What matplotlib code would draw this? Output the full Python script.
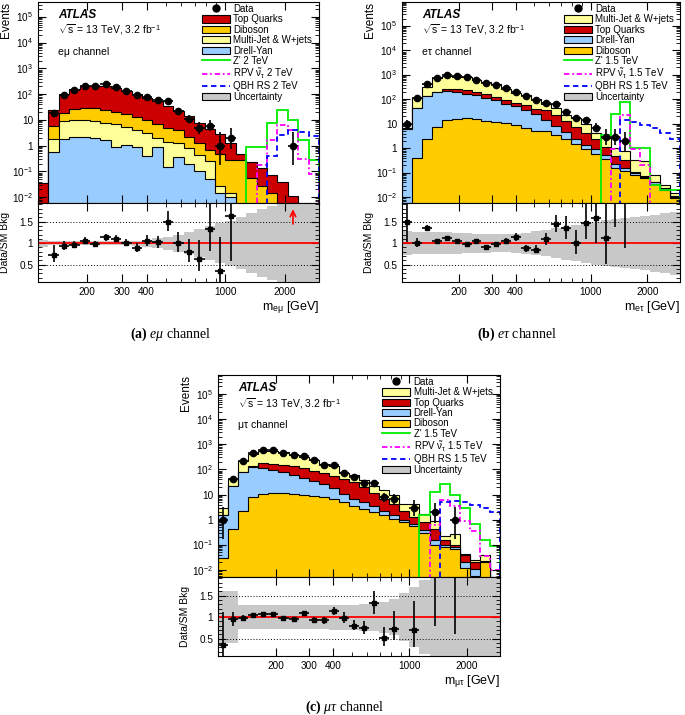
import numpy as np
import matplotlib
matplotlib.use("Agg")
import matplotlib.pyplot as plt
from matplotlib.lines import Line2D
from matplotlib.patches import Patch
from matplotlib.ticker import FixedLocator, FuncFormatter, LogLocator, MultipleLocator, NullFormatter

plt.rcParams['font.family'] = ['Liberation Sans', 'DejaVu Sans']
plt.rcParams['mathtext.fontset'] = 'custom'
plt.rcParams['mathtext.rm'] = 'Liberation Sans'
plt.rcParams['mathtext.sf'] = 'Liberation Sans'
plt.rcParams['mathtext.it'] = 'Liberation Serif:italic'
plt.rcParams['mathtext.bf'] = 'Liberation Serif:bold'

# ---- e-mu channel (27 log bins, 19 per decade) ----
top_a = [0.035, 18.8, 79, 126, 175, 182, 186, 147, 119, 87, 64, 49, 30, 18, 11.8, 6.6, 3.8, 2.4, 0.95, 0.2,
         0.185, 0.104, 0.06, 0.033, 0.011, 0, 0]
dib_a = [0, 3.85, 10, 16, 19.5, 20.4, 16.2, 14.3, 11, 8.6, 6.9, 4.9, 3.3, 2.7, 1.4, 0.78, 0.43, 0.43, 0.27, 0.28,
         0.055, 0.026, 0.014, 0.004, 0, 0, 0]
mj_a = [0, 1.3, 7.2, 7.8, 7.9, 7.1, 6.1, 5.8, 4.3, 3.1, 2.6, 1.13, 1.28, 0.93, 0.6, 0.35, 0.2, 0.011, 0.004, 0,
        0, 0, 0, 0, 0, 0, 0]
dy_a = [0, 0.55, 1.8, 2.1, 2.1, 2.0, 1.7, 0.87, 1.07, 0.87, 0.38, 0.87, 0.15, 0.37, 0.2, 0.1, 0.05, 0.015, 0.01, 0,
        0, 0, 0, 0, 0, 0, 0]
data_a = [0, 18, 92, 146, 216, 208, 238, 185, 137, 89, 78, 57, 52, 22, 11, 5, 6, 1, 2, 0, 0, 0, 0, 0, 1, 0, 0]
zp_a = [0] * 20 + [0.87, 0.87, 7.5, 24, 10, 1.7, 0.27]
rpv_a = [0] * 21 + [0.18, 1.66, 6.3, 4.0, 0.3, 0.08]
qbh_a = [0] * 22 + [0.38, 2.6, 4.0, 3.5, 2.3]
unc_a = [0.08, 0.05, 0.05, 0.05, 0.05, 0.05, 0.05, 0.05, 0.05, 0.06, 0.08, 0.11, 0.15, 0.2, 0.26, 0.32, 0.4,
         0.46, 0.52, 0.6, 0.7, 0.78, 0.85, 0.9, 0.9, 0.9, 0.9]

# ---- e-tau channel (28 bins) ----
dib_b = [0, 0.39, 2.5, 7.6, 14, 15.5, 16.5, 15, 13.3, 12, 10.3, 8.8, 6.5, 5.0, 5.0, 3.5, 2.4, 1.5, 0.9, 0.6,
         0.35, 0.16, 0.12, 0.08, 0.06, 0.035, 0.02, 0.009]
dy_b = [6.3, 45, 130, 192, 205, 185, 154, 130, 101, 79, 57, 43, 30, 21, 9, 4.5, 2.1, 1.0, 0.5, 0.3,
        0.2, 0.06, 0.03, 0.02, 0.01, 0.005, 0.002, 0.001]
top_b = [0.1, 0.5, 1, 3, 51, 65, 70, 60, 56, 39, 28, 20, 21, 16, 21, 14, 8.5, 5.0, 2.8, 1.4,
         0.55, 0.28, 0.18, 0.01, 0.005, 0.002, 0.001, 0.001]
mj_b = [0.3, 68, 185, 542, 627, 578, 587, 410, 352, 276, 181, 103, 93, 65, 29, 21, 10, 9.5, 5.3, 2.1,
        1.6, 0.5, 0.47, 0.23, 0.225, 0.041, 0.01, 0.004]
data_b = [10, 115, 430, 775, 1000, 885, 810, 646, 475, 394, 290, 199, 132, 91, 70, 62, 31, 17, 14, 7,
          3, 3, 2, 0, 0, 0, 0, 0]
zp_b = [0] * 20 + [3.5, 24, 80, 1.0, 1.0, 0.032, 0.02, 0.02]
rpv_b = [0] * 21 + [0.9, 22, 0.9, 0.2, 0, 0, 0]
qbh_b = [0] * 22 + [14, 12, 8.8, 6.5, 4.1, 2.5]
unc_b = [0.27, 0.26, 0.26, 0.25, 0.25, 0.24, 0.23, 0.22, 0.22, 0.21, 0.21, 0.22, 0.24, 0.27, 0.3, 0.34, 0.38,
         0.42, 0.46, 0.5, 0.53, 0.55, 0.58, 0.6, 0.63, 0.66, 0.7, 0.73]

# ---- mu-tau channel (28 bins) ----
dib_c = [0.03, 0.43, 2.3, 7.7, 10.5, 11.2, 11.2, 10.5, 9.8, 8.9, 7.7, 6.6, 4.9, 3.5, 2.7, 2.1, 1.5, 1.1, 0.79,
         0.55, 0.3, 0.1, 0.085, 0.07, 0.012, 0.006, 0.02, 0.003]
dy_c = [1.47, 20.6, 78, 112, 100, 85, 65, 48.5, 38, 26, 18.3, 11.4, 6.1, 3.5, 2.2, 1.5, 0.8, 0.5, 0.21,
        0.1, 0.08, 0.05, 0.015, 0.01, 0.008, 0.005, 0.001, 0.001]
top_c = [0.01, 0.05, 0.3, 18, 63, 66, 72, 73, 62, 54, 44, 37, 31, 25, 15, 8.4, 4.7, 2.6, 1.3,
         0.65, 0.42, 0.28, 0.05, 0.02, 0.02, 0.009, 0.001, 0.0005]
mj_c = [1.4, 21, 133, 281, 385, 378, 329, 253, 193, 160, 92, 82, 31, 30, 19, 10, 8.7, 5.3, 1.9,
        3.0, 0.9, 0.47, 0.08, 0.18, 0.005, 0.005, 0.018, 0.001]
data_c = [1, 40, 210, 440, 600, 580, 470, 370, 330, 234, 150, 155, 72, 50, 29, 29, 8, 7, 0, 3,
          0, 2, 0, 1, 0, 0, 0, 0]
zp_c = [0] * 20 + [1.6, 13, 27, 10, 3.0, 0.7, 0.15, 0.09]
rpv_c = [0] * 21 + [0.6, 6.3, 3.5, 0.9, 0.35, 0.035, 0.01]
qbh_c = [0] * 22 + [5.0, 5.7, 5.0, 4.0, 3.0, 2.0]
unc_c = [0.6, 0.6, 0.28, 0.28, 0.28, 0.28, 0.28, 0.28, 0.28, 0.28, 0.28, 0.29, 0.29, 0.29, 0.31, 0.33, 0.36,
         0.42, 0.55, 0.7, 0.85, 0.95, 0.95, 0.95, 0.95, 0.95, 0.95, 0.95]

# colours
c_top = '#cc0000'
c_dib = '#ffcc00'
c_mj = '#ffff99'
c_dy = '#99ccff'
c_unc = '#c8c8c8'

W, H = 685, 715
fig = plt.figure(figsize=(W / 100, H / 100), dpi=100)


def px_rect(left, top, right, bottom):
    return [left / W, 1 - bottom / H, (right - left) / W, (bottom - top) / H]


def pow_label(v, pos):
    e = int(round(np.log10(v)))
    if e == 0:
        return '1'
    if e == 1:
        return '10'
    return r'$10^{%d}$' % e


def draw_channel(main_px, ratio_px, edges, layers, legend_keys, data, signals, unc, channel, xlabel, ylim):
    ax = fig.add_axes(px_rect(*main_px))
    rax = fig.add_axes(px_rect(*ratio_px), sharex=ax)
    ax.set_xscale('log')
    ax.set_yscale('log')
    width = main_px[2] - main_px[0]

    # stacked backgrounds, bottom -> top
    vals = np.array([l[1] for l in layers], dtype=float)
    cum = np.cumsum(vals, axis=0)
    for i in range(len(layers) - 1, -1, -1):
        ax.stairs(np.clip(cum[i], 1e-6, None), edges, baseline=1e-6, fill=True,
                  facecolor=layers[i][2], edgecolor='black', linewidth=0.8)
    total = cum[-1]

    # signals
    for name, v, col, ls in signals:
        ax.stairs(np.clip(np.array(v, float), 1e-6, None), edges, baseline=1e-6,
                  color=col, linestyle=ls, linewidth=1.3)

    # data with Poisson errors
    centers = np.sqrt(edges[:-1] * edges[1:])
    xlo = centers - edges[:-1]
    xhi = edges[1:] - centers
    d = np.array(data, float)
    lo = d * (1 - 1 / (9 * np.maximum(d, 1)) - 1 / (3 * np.sqrt(np.maximum(d, 1)))) ** 3
    hi = (d + 1) * (1 - 1 / (9 * (d + 1)) + 1 / (3 * np.sqrt(d + 1))) ** 3
    m = d > 0
    ax.errorbar(centers[m], d[m], yerr=[d[m] - lo[m], hi[m] - d[m]], xerr=[xlo[m], xhi[m]],
                fmt='o', color='black', ms=4.5, elinewidth=1.2, capsize=0, zorder=5)

    ax.set_xlim(edges[0], edges[-1])
    ax.set_ylim(*ylim)

    # ratio panel
    rax.axhline(0.5, color='black', linestyle=(0, (1, 2)), linewidth=0.7)
    rax.axhline(1.5, color='black', linestyle=(0, (1, 2)), linewidth=0.7)
    u = np.array(unc, float)
    rax.stairs(1 + u, edges, baseline=1 - u, fill=True, color=c_unc, linewidth=0)
    rax.axhline(1.0, color='red', linewidth=1.3)
    mr = m & (total > 0)
    safe = np.where(total > 0, total, 1)
    r = np.where(total > 0, d / safe, 0)
    r_lo = (d - lo) / safe
    rax.errorbar(centers[mr], r[mr], yerr=[r_lo[mr], ((hi - d) / safe)[mr]],
                 xerr=[xlo[mr], xhi[mr]], fmt='s', color='black', ms=3.5, elinewidth=1.2, capsize=0, zorder=5)
    rlim = (0.1, 1.93)
    rax.set_ylim(*rlim)
    # arrow where the whole point is above the ratio range
    for c in centers[mr & (r - r_lo > rlim[1])]:
        rax.annotate('', xy=(c, 1.85), xytext=(c, 1.38),
                     arrowprops=dict(arrowstyle='->', color='red', lw=1.2))

    # ticks
    for a in (ax, rax):
        a.tick_params(which='both', direction='in', top=True, right=True, labelsize=7.2)
        a.tick_params(which='major', length=6)
        a.tick_params(which='minor', length=3)
    ax.tick_params(labelbottom=False)
    rax.xaxis.set_major_locator(FixedLocator([200, 300, 400, 1000, 2000]))
    rax.xaxis.set_minor_locator(FixedLocator([100, 500, 600, 700, 800, 900, 3000]))
    rax.xaxis.set_major_formatter(FuncFormatter(lambda v, p: '%g' % v))
    rax.xaxis.set_minor_formatter(NullFormatter())
    ax.yaxis.set_major_locator(LogLocator(base=10, numticks=20))
    ax.yaxis.set_minor_locator(LogLocator(base=10, subs=np.arange(2, 10), numticks=20))
    ax.yaxis.set_major_formatter(FuncFormatter(pow_label))
    ax.yaxis.set_minor_formatter(NullFormatter())
    rax.yaxis.set_major_locator(FixedLocator([0.5, 1, 1.5]))
    rax.yaxis.set_minor_locator(MultipleLocator(0.1))
    rax.yaxis.set_major_formatter(FuncFormatter(lambda v, p: '%g' % v))

    ax.set_ylabel('Events', loc='top', fontsize=8.5)
    ax.yaxis.set_label_coords(-26.0 / width, 1.0)
    rax.set_ylabel('Data/SM Bkg', fontsize=7.5)
    rax.yaxis.set_label_coords(-28.0 / width, 0.5)
    rax.set_xlabel(xlabel, loc='right', fontsize=9)
    rax.xaxis.set_label_coords(1.0, -0.22)

    # labels
    ax.text(0.072, 0.935, 'ATLAS', transform=ax.transAxes, fontsize=8.5, fontweight='bold',
            fontstyle='italic', va='center')
    ax.text(0.072, 0.86, r'$\sqrt{\mathrm{s}}$ = 13 TeV, 3.2 fb$^{-1}$', transform=ax.transAxes,
            fontsize=7.5, va='center')
    ax.text(0.072, 0.75, channel, transform=ax.transAxes, fontsize=7.5, va='center')

    # legend
    lay = {l[0]: l for l in layers}
    handles = [Line2D([], [], marker='o', color='black', linestyle='none', ms=5)]
    labels = ['Data']
    for k in legend_keys:
        handles.append(Patch(facecolor=lay[k][2], edgecolor='black', linewidth=0.8))
        labels.append(k)
    for name, v, col, ls in signals:
        handles.append(Line2D([], [], color=col, linestyle=ls, linewidth=1.3))
        labels.append(name)
    handles.append(Patch(facecolor=c_unc, edgecolor='black', linewidth=0.8))
    labels.append('Uncertainty')
    ax.legend(handles, labels, loc='upper left', bbox_to_anchor=(0.575, 1.0), frameon=False,
              fontsize=7, handlelength=2.9, handleheight=0.75, labelspacing=0.04,
              handletextpad=0.35, borderaxespad=0.1, borderpad=0.1)
    return ax, rax


edges_a = np.logspace(2 + 1 / 19, 2 + 28 / 19, 28)
edges_bc = np.logspace(2, 2 + 28 / 19, 29)

draw_channel((38, 2, 319, 203), (38, 203, 319, 282), edges_a,
             [('Drell-Yan', dy_a, c_dy), ('Multi-Jet & W+jets', mj_a, c_mj),
              ('Diboson', dib_a, c_dib), ('Top Quarks', top_a, c_top)],
             ['Top Quarks', 'Diboson', 'Multi-Jet & W+jets', 'Drell-Yan'],
             data_a,
             [("Z' 2 TeV", zp_a, '#00ee00', '-'),
              (r'RPV $\tilde{\mathrm{\nu}}_{\mathrm{\tau}}$ 2 TeV', rpv_a, '#ff00ff', (0, (3, 1.5, 1, 1.5))),
              ('QBH RS 2 TeV', qbh_a, '#0000ff', (0, (3, 2)))],
             unc_a, 'e\u03bc channel', r'm$_{\mathrm{e\mu}}$ [GeV]', (5.9e-3, 3.8e5))

draw_channel((402, 2, 680, 203), (402, 203, 680, 282), edges_bc,
             [('Diboson', dib_b, c_dib), ('Drell-Yan', dy_b, c_dy),
              ('Top Quarks', top_b, c_top), ('Multi-Jet & W+jets', mj_b, c_mj)],
             ['Multi-Jet & W+jets', 'Top Quarks', 'Drell-Yan', 'Diboson'],
             data_b,
             [("Z' 1.5 TeV", zp_b, '#00ee00', '-'),
              (r'RPV $\tilde{\mathrm{\nu}}_{\mathrm{\tau}}$ 1.5 TeV', rpv_b, '#ff00ff', (0, (3, 1.5, 1, 1.5))),
              ('QBH RS 1.5 TeV', qbh_b, '#0000ff', (0, (3, 2)))],
             unc_b, 'e\u03c4 channel', r'm$_{\mathrm{e\tau}}$ [GeV]', (5.8e-3, 9.5e5))

draw_channel((218, 375, 500, 577), (218, 577, 500, 656), edges_bc,
             [('Diboson', dib_c, c_dib), ('Drell-Yan', dy_c, c_dy),
              ('Top Quarks', top_c, c_top), ('Multi-Jet & W+jets', mj_c, c_mj)],
             ['Multi-Jet & W+jets', 'Top Quarks', 'Drell-Yan', 'Diboson'],
             data_c,
             [("Z' 1.5 TeV", zp_c, '#00ee00', '-'),
              (r'RPV $\tilde{\mathrm{\nu}}_{\mathrm{\tau}}$ 1.5 TeV', rpv_c, '#ff00ff', (0, (3, 1.5, 1, 1.5))),
              ('QBH RS 1.5 TeV', qbh_c, '#0000ff', (0, (3, 2)))],
             unc_c, '\u03bc\u03c4 channel', r'm$_{\mathrm{\mu\tau}}$ [GeV]', (5.3e-3, 5.7e5))

# captions
fig.text(170 / W, 1 - 334 / H, r'$\mathbf{(a)}\ e\mu$ channel', ha='center', va='center',
         fontsize=10, family='Liberation Serif')
fig.text(517 / W, 1 - 334 / H, r'$\mathbf{(b)}\ e\tau$ channel', ha='center', va='center',
         fontsize=10, family='Liberation Serif')
fig.text(345 / W, 1 - 707 / H, r'$\mathbf{(c)}\ \mu\tau$ channel', ha='center', va='center',
         fontsize=10, family='Liberation Serif')

fig.savefig('out.png', dpi=100)
